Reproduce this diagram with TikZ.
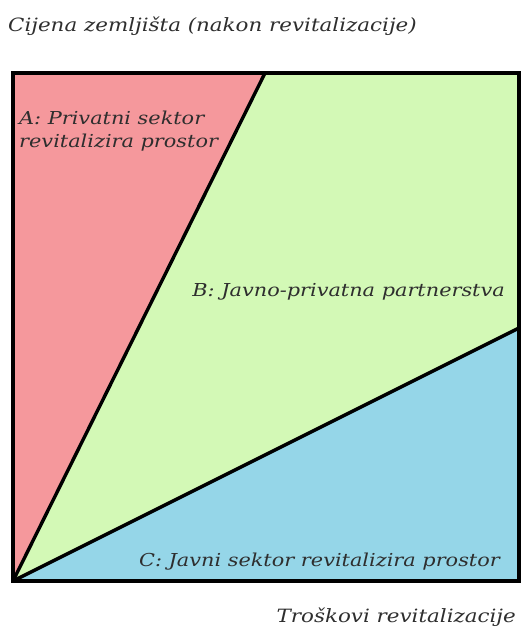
\documentclass[tikz,border=0pt]{standalone}
\usepackage{tikz}
\usepackage{fontspec}
\setmainfont[FakeStretch=1.17]{DejaVu Serif}

\definecolor{zoneA}{HTML}{F5989C}
\definecolor{zoneB}{HTML}{D3F9B6}
\definecolor{zoneC}{HTML}{95D6E8}
\definecolor{txt}{HTML}{2E2E2E}

\tikzset{
  zonelabel/.style={text=txt, font=\fontsize{17.8}{23}\selectfont\itshape, inner sep=0pt},
  axislabel/.style={text=txt, font=\fontsize{18.3}{22}\selectfont\itshape, inner sep=0pt},
  edge/.style={line width=3.4pt, line join=miter}
}

\begin{document}
\begin{tikzpicture}[x=1pt, y=1pt]
        \useasboundingbox (0,0) rectangle (521,637);

        % Corners of the square
        \coordinate (o) at (13,56);
        \coordinate (tl) at (13,564);
        \coordinate (tr) at (519,564);
        \coordinate (br) at (519,56);
        \coordinate (a) at (265,564);
        \coordinate (c) at (519,309);

        % Fill zones
        \fill[zoneA] (o) -- (tl) -- (a) -- cycle;
        \fill[zoneB] (o) -- (a) -- (tr) -- (c) -- cycle;
        \fill[zoneC] (o) -- (c) -- (br) -- cycle;

        % Draw lines
        \draw[edge] (o) -- (a);
        \draw[edge] (o) -- (c);
        \draw[edge] (o) rectangle (tr);

        % Labels
        \node[zonelabel, anchor=base west, align=left] (lblA) at (19,489) {A: Privatni sektor\\revitalizira prostor};
        \node[zonelabel, anchor=base east] (lblB) at (505,340) {B: Javno-privatna partnerstva};
        \node[zonelabel, anchor=base east] (lblC) at (500,70) {C: Javni sektor revitalizira prostor};
        \node[axislabel, anchor=base west] (ylbl) at (8,605) {Cijena zemljišta (nakon revitalizacije)};
        \node[axislabel, anchor=base east] (xlbl) at (516,14) {Troškovi revitalizacije};
    \end{tikzpicture}
\end{document}
